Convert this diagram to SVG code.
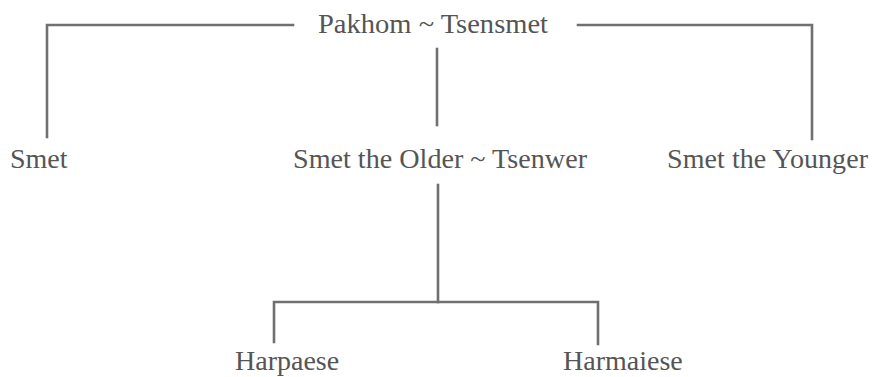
<svg xmlns="http://www.w3.org/2000/svg" width="874" height="377" viewBox="0 0 874 377">
<style>
.t{font-family:"Liberation Serif","Times New Roman",serif;font-size:28px;fill:#555555}
.c{stroke:#707070;stroke-width:2.6;fill:none;stroke-linecap:square}
</style>
<rect width="874" height="377" fill="#ffffff"/>
<g id="connectors">
<path class="c" d="M293,25 H47 V137"/>
<path class="c" d="M578,25 H812 V139"/>
<path class="c" d="M437,49 V125"/>
<path class="c" d="M438,185 V302"/>
<path class="c" d="M274,342 V302 H598 V344"/>
</g>
<g id="pakhom"><text class="t" x="318" y="33" textLength="230" lengthAdjust="spacingAndGlyphs">Pakhom ~ Tsensmet</text></g>
<g id="smet"><text class="t" x="10" y="167.5">Smet</text></g>
<g id="smet-older"><text class="t" x="293" y="167.5" textLength="294" lengthAdjust="spacingAndGlyphs">Smet the Older ~ Tsenwer</text></g>
<g id="smet-younger"><text class="t" x="667" y="167.5" textLength="201" lengthAdjust="spacing">Smet the Younger</text></g>
<g id="harpaese"><text class="t" x="235" y="370">Harpaese</text></g>
<g id="harmaiese"><text class="t" x="563" y="370">Harmaiese</text></g>
</svg>
